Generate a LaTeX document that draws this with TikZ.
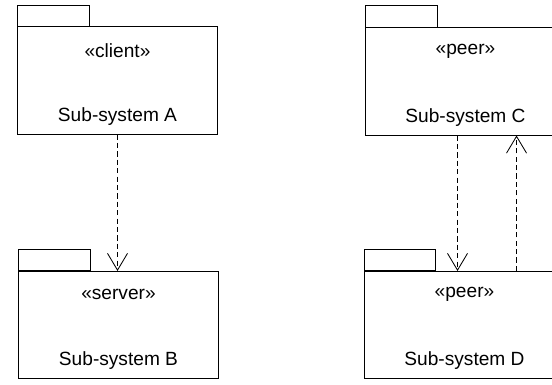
\documentclass[tikz,border=0pt]{standalone}
\usepackage{fontspec}
\setmainfont{Liberation Sans}
\usetikzlibrary{positioning}
\usetikzlibrary{arrows.meta}
\tikzset{
	pkg/.style={draw, rectangle, line width=0.7pt, minimum width=4.975cm, minimum height=2.675cm, inner sep=0pt},
	tab/.style={draw, line width=0.7pt},
	pkgtext/.style={font=\fontsize{13.6}{16}\selectfont, inner sep=1pt},
	dep/.style={line width=0.6pt, dash pattern=on 1.3mm off 0.8mm, -{Straight Barb[length=4.2mm, width=5mm, line width=0.6pt]}},
}

\begin{document}
\begin{tikzpicture}[x=0.025cm, y=-0.025cm]
		\clip (0,0) rectangle (552,385);
		
		\node (A) [pkg] at (117.5,80.5) {};
		\node (B) [pkg] at (118.5,325) {};
		\node (C) [pkg] at (465.5,81.5) {};
		\node (D) [pkg] at (464.5,325) {};
		
		% tabs on top of the packages
		\draw [tab] (A.north west) rectangle ++(72,-21);
		\draw [tab] (B.north west) rectangle ++(72,-21);
		\draw [tab] (C.north west) rectangle ++(72,-22);
		\draw [tab] (D.north west) rectangle ++(71,-21);
		
		\node (Astereo) [pkgtext] at ([yshift=-6mm]A.north) {«client»};
		\node (Aname) [pkgtext] at ([yshift=4.5mm]A.south) {Sub-system A};
		\node (Bstereo) [pkgtext] at ([yshift=-5.8mm]B.north) {«server»};
		\node (Bname) [pkgtext] at ([yshift=4.5mm]B.south) {Sub-system B};
		\node (Cstereo) [pkgtext] at ([yshift=-6mm]C.north) {«peer»};
		\node (Cname) [pkgtext] at ([yshift=4.5mm]C.south) {Sub-system C};
		\node (Dstereo) [pkgtext] at ([yshift=-5.8mm]D.north) {«peer»};
		\node (Dname) [pkgtext] at ([yshift=4.5mm]D.south) {Sub-system D};
		
		\begin{scope}[dep]
			\draw (A.south) -- (A.south |- B.north);
			\draw ([xshift=2.3cm]C.south west) -- ([xshift=2.3cm]C.south west |- D.north);
			\draw ([xshift=3.8cm]D.north west) -- ([xshift=3.8cm]D.north west |- C.south);
		\end{scope}
		
	\end{tikzpicture}
\end{document}
